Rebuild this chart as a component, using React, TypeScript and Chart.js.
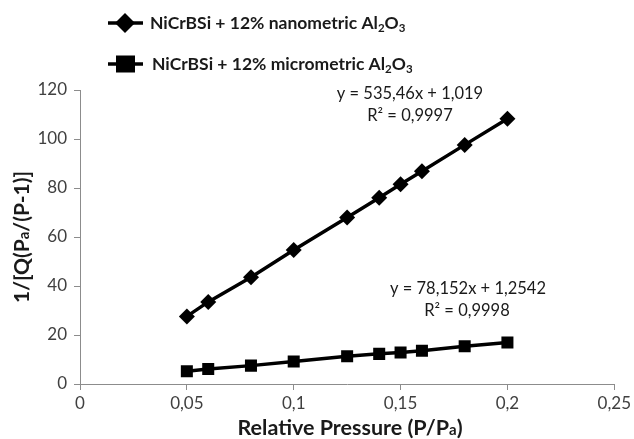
import React, { useEffect, useRef } from 'react';
import { Chart, registerables } from 'chart.js';

Chart.register(...registerables);

const pressure = [0.05, 0.06, 0.08, 0.1, 0.125, 0.14, 0.15, 0.16, 0.18, 0.2];
const nanoValues = [27.6, 33.5, 43.6, 54.7, 68.0, 76.0, 81.5, 86.8, 97.6, 108.3];
const microValues = [5.2, 6.1, 7.5, 9.2, 11.3, 12.3, 12.9, 13.6, 15.4, 16.9];
const xTickLabels = ['0', '0,05', '0,1', '0,15', '0,2', '0,25'];
const yTickValues = [0, 20, 40, 60, 80, 100, 120];
const seriesNames = ['NiCrBSi + 12% nanometric Al', 'NiCrBSi + 12% micrometric Al'];
const nanoFit = ['y = 535,46x + 1,019', 'R² = 0,9997'];
const microFit = ['y = 78,152x + 1,2542', 'R² = 0,9998'];

const FONT = 'Lato, "Open Sans", sans-serif';
const TEXT = '#1a1a1a';
const AXIS = '#8c8c8c';

type Run = { t: string; size: number; bold?: boolean; dy?: number };

function fontOf(r: Run) {
  return `${r.bold ? 'bold ' : ''}${r.size}px ${FONT}`;
}

function drawRuns(ctx: CanvasRenderingContext2D, runs: Run[], x: number, y: number, align: 'left' | 'center') {
  let total = 0;
  const widths = runs.map((r) => {
    ctx.font = fontOf(r);
    const w = ctx.measureText(r.t).width;
    total += w;
    return w;
  });
  let cx = align === 'center' ? x - total / 2 : x;
  ctx.textAlign = 'left';
  ctx.textBaseline = 'alphabetic';
  runs.forEach((r, i) => {
    ctx.font = fontOf(r);
    ctx.fillText(r.t, cx, y + (r.dy || 0));
    cx += widths[i];
  });
}

const overlayPlugin = {
  id: 'overlayText',
  afterDraw(chart: any) {
    const ctx: CanvasRenderingContext2D = chart.ctx;
    ctx.save();
    ctx.fillStyle = TEXT;
    ctx.strokeStyle = '#000';

    // Legend
    const legSize = 17.5;
    const subSize = 11.5;
    ctx.lineWidth = 3.5;
    ctx.beginPath();
    ctx.moveTo(108, 23);
    ctx.lineTo(143, 23);
    ctx.stroke();
    ctx.fillStyle = '#000';
    ctx.beginPath();
    ctx.moveTo(125, 13);
    ctx.lineTo(135, 23);
    ctx.lineTo(125, 33);
    ctx.lineTo(115, 23);
    ctx.closePath();
    ctx.fill();

    ctx.beginPath();
    ctx.moveTo(108, 64);
    ctx.lineTo(143, 64);
    ctx.stroke();
    ctx.fillRect(116, 55.5, 19, 17);

    ctx.fillStyle = TEXT;
    drawRuns(ctx, [
      { t: seriesNames[0], size: legSize, bold: true },
      { t: '2', size: subSize, bold: true, dy: 3 },
      { t: 'O', size: legSize, bold: true },
      { t: '3', size: subSize, bold: true, dy: 3 },
    ], 150, 29, 'left');
    drawRuns(ctx, [
      { t: seriesNames[1], size: legSize, bold: true },
      { t: '2', size: subSize, bold: true, dy: 3 },
      { t: 'O', size: legSize, bold: true },
      { t: '3', size: subSize, bold: true, dy: 3 },
    ], 152, 70, 'left');

    // Fit annotations
    drawRuns(ctx, [{ t: nanoFit[0], size: 16.5 }], 410, 99, 'center');
    drawRuns(ctx, [{ t: nanoFit[1], size: 16.5 }], 410, 121, 'center');
    drawRuns(ctx, [{ t: microFit[0], size: 16.5 }], 468, 294, 'center');
    drawRuns(ctx, [{ t: microFit[1], size: 16.5 }], 467, 316, 'center');

    // X axis title
    drawRuns(ctx, [
      { t: 'Relative Pressure (P/P', size: 21.5, bold: true },
      { t: 'a', size: 15, bold: true },
      { t: ')', size: 21.5, bold: true },
    ], 350, 435, 'center');

    // Y axis title
    ctx.translate(22, 237);
    ctx.rotate(-Math.PI / 2);
    drawRuns(ctx, [
      { t: '1/[Q(P', size: 21, bold: true },
      { t: 'a', size: 15, bold: true },
      { t: '/(P-1)]', size: 21, bold: true },
    ], 0, 7, 'center');
    ctx.restore();
  },
};

export default function App() {
  const canvasRef = useRef<HTMLCanvasElement | null>(null);

  useEffect(() => {
    const canvas = canvasRef.current;
    if (!canvas) return;
    const chart = new Chart(canvas, {
      type: 'scatter',
      data: {
        datasets: [
          {
            label: seriesNames[0],
            data: pressure.map((x, i) => ({ x, y: nanoValues[i] })),
            showLine: true,
            borderColor: '#000',
            backgroundColor: '#000',
            borderWidth: 3.5,
            pointStyle: 'rectRot',
            pointRadius: 8,
            pointBorderWidth: 0,
          },
          {
            label: seriesNames[1],
            data: pressure.map((x, i) => ({ x, y: microValues[i] })),
            showLine: true,
            borderColor: '#000',
            backgroundColor: '#000',
            borderWidth: 3.5,
            pointStyle: 'rect',
            pointRadius: 8.5,
            pointBorderWidth: 0,
          },
        ],
      },
      options: {
        responsive: false,
        animation: false,
        layout: { padding: { left: 0, top: 90, right: 19, bottom: 0 } },
        plugins: {
          legend: { display: false },
          tooltip: { enabled: false },
        },
        scales: {
          x: {
            type: 'linear',
            min: 0,
            max: 0.25,
            afterFit: (s: any) => { s.height = 55; },
            afterBuildTicks: (s: any) => {
              s.ticks = xTickLabels.map((_, i) => ({ value: i * 0.05 }));
            },
            ticks: {
              color: '#404040',
              font: { family: FONT, size: 17 },
              padding: 3,
              maxRotation: 0,
              callback: (_v: any, i: number) => xTickLabels[i],
            },
            grid: { drawOnChartArea: false, drawTicks: true, tickLength: 6, color: AXIS },
            border: { display: true, color: AXIS, width: 1 },
          },
          y: {
            type: 'linear',
            min: 0,
            max: 120,
            afterFit: (s: any) => { s.width = 80; },
            afterBuildTicks: (s: any) => {
              s.ticks = yTickValues.map((v) => ({ value: v }));
            },
            ticks: {
              color: '#404040',
              font: { family: FONT, size: 17 },
              padding: 7,
              callback: (v: any) => String(v),
            },
            grid: { drawOnChartArea: false, drawTicks: true, tickLength: 6, color: AXIS },
            border: { display: true, color: AXIS, width: 1 },
          },
        },
      },
      plugins: [overlayPlugin],
    });
    return () => chart.destroy();
  }, []);

  return (
    <div style={{ position: 'fixed', left: 0, top: 0, width: 634, height: 439, background: '#fff' }}>
      <canvas ref={canvasRef} width={634} height={439} style={{ display: 'block' }} />
    </div>
  );
}
